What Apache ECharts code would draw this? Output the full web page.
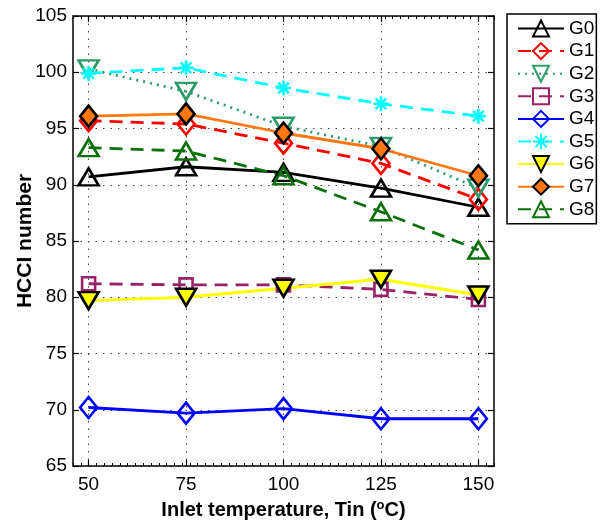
<!DOCTYPE html>
<html><head><meta charset="utf-8">
<script src="https://cdn.jsdelivr.net/npm/echarts@6/dist/echarts.min.js"></script>
<style>html,body{margin:0;padding:0;background:#fff}#c{width:600px;height:522px}</style>
</head><body><div id="c"></div>
<script>
// ---- data ----
const xValues = [50, 75, 100, 125, 150];
const xTicks = [50, 75, 100, 125, 150];
const seriesNames = ['G0', 'G1', 'G2', 'G3', 'G4', 'G5', 'G6', 'G7', 'G8'];
const G0 = [90.7, 91.6, 91.1, 89.7, 88.0];
const G1 = [95.7, 95.4, 93.7, 91.9, 88.7];
const G2 = [100.3, 98.3, 95.2, 93.4, 89.7];
const G3 = [81.2, 81.1, 81.1, 80.7, 79.8];
const G4 = [70.2, 69.7, 70.1, 69.2, 69.2];
const G5 = [99.9, 100.4, 98.6, 97.2, 96.1];
const G6 = [79.7, 80.0, 80.8, 81.6, 80.2];
const G7 = [96.1, 96.3, 94.6, 93.2, 90.8];
const G8 = [93.3, 93.0, 90.8, 87.6, 84.2];
const allValues = [G0, G1, G2, G3, G4, G5, G6, G7, G8];

// ---- styles ----
const FONT = 'Liberation Sans, Arial, Helvetica, sans-serif';
const ASTER = 'path://M10,0L10,20M0,10L20,10M2.93,2.93L17.07,17.07M2.93,17.07L17.07,2.93';
const styles = [
  {color:'#000000', type:'solid',  symbol:'triangle', size:[20,17], fill:'rgba(0,0,0,0)', edge:'#000000'},
  {color:'#ff0000', type:[13,8],   symbol:'diamond',  size:[17,21], fill:'rgba(0,0,0,0)', edge:'#ff0000'},
  {color:'#2b9b6b', type:[2,5],    symbol:'triangle', size:[20,17], rotate:180, fill:'rgba(0,0,0,0)', edge:'#2b9b6b'},
  {color:'#992266', type:[13,8],   symbol:'rect',     size:[13,13], fill:'rgba(0,0,0,0)', edge:'#992266'},
  {color:'#0000ff', type:'solid',  symbol:'diamond',  size:[17,21], fill:'rgba(0,0,0,0)', edge:'#0000ff'},
  {color:'#00ffff', type:[13,8],   symbol:ASTER,      size:[15,15], fill:'rgba(0,0,0,0)', edge:'#00ffff'},
  {color:'#ffff00', type:'solid',  symbol:'triangle', size:[20,17], rotate:180, fill:'#ffff00', edge:'#000000'},
  {color:'#ff7711', type:'solid',  symbol:'diamond',  size:[17,21], fill:'#ff7711', edge:'#000000'},
  {color:'#0a700a', type:[13,8],   symbol:'triangle', size:[20,17], fill:'rgba(0,0,0,0)', edge:'#0a700a'}
];

const series = seriesNames.map((name, i) => {
  const s = styles[i];
  return {
    name: name,
    type: 'line',
    xAxisIndex: 0, yAxisIndex: 0,
    data: xValues.map((x, j) => [x, allValues[i][j]]),
    symbol: s.symbol,
    symbolSize: s.size,
    symbolRotate: s.rotate || 0,
    showSymbol: true,
    animation: false,
    lineStyle: {color: s.color, width: 2.8, type: s.type},
    itemStyle: {color: s.fill, borderColor: s.edge, borderWidth: 2.6},
    emphasis: {disabled: true}
  };
});

const gridPos = {left: 73, right: 106, top: 16, bottom: 56, containLabel: false, outerBoundsMode: 'none'};
const tickStyle = {color: '#000', width: 1.2};

const option = {
  backgroundColor: '#fff',
  animation: false,
  textStyle: {fontFamily: FONT},
  grid: [Object.assign({}, gridPos), Object.assign({}, gridPos)],
  legend: {
    orient: 'vertical', left: 507, top: 14,
    padding: [5, 2, 5, 10],
    itemWidth: 46, itemHeight: 20, itemGap: 3.6,
    borderColor: '#000', borderWidth: 1.5, backgroundColor: '#fff',
    textStyle: {fontFamily: FONT, fontSize: 19, color: '#000'},
    data: seriesNames
  },
  xAxis: [
    {
      type: 'value', gridIndex: 0, position: 'bottom', min: 46, max: 154,
      name: 'Inlet temperature, Tin ({s|o}C)', nameLocation: 'middle', nameGap: 33, nameMoveOverlap: false,
      nameTextStyle: {fontFamily: FONT, fontSize: 20, fontWeight: 'bold', color: '#000',
        rich: {s: {fontFamily: FONT, fontSize: 13, fontWeight: 'bold', color: '#000', verticalAlign: 'top', padding: [0, 0, 9, 0]}}},
      axisLine: {show: true, onZero: false, lineStyle: {color: '#000', width: 1.5}},
      axisTick: {show: true, inside: true, length: 6, lineStyle: tickStyle, customValues: xTicks},
      axisLabel: {fontFamily: FONT, fontSize: 19, color: '#000', margin: 9, customValues: xTicks},
      splitLine: {show: true, lineStyle: {color: '#444', width: 1, type: [1.5, 6]}}
    },
    {
      type: 'value', gridIndex: 0, position: 'top', min: 46, max: 154,
      axisLine: {show: true, onZero: false, lineStyle: {color: '#000', width: 1.5}},
      axisTick: {show: true, inside: true, length: 6, lineStyle: tickStyle, customValues: xTicks},
      axisLabel: {show: false},
      splitLine: {show: false}
    },
    {
      type: 'value', gridIndex: 1, position: 'bottom', min: 46, max: 154, interval: 2,
      axisLine: {show: false},
      axisTick: {show: true, inside: true, length: 3, lineStyle: {color: '#000', width: 1}},
      axisLabel: {show: false}, splitLine: {show: false}
    },
    {
      type: 'value', gridIndex: 1, position: 'top', min: 46, max: 154, interval: 2,
      axisLine: {show: false},
      axisTick: {show: true, inside: true, length: 3, lineStyle: {color: '#000', width: 1}},
      axisLabel: {show: false}, splitLine: {show: false}
    }
  ],
  yAxis: [
    {
      type: 'value', gridIndex: 0, position: 'left', min: 65, max: 105, interval: 5,
      name: 'HCCI number', nameLocation: 'middle', nameGap: 37, nameRotate: 90, nameMoveOverlap: false,
      nameTextStyle: {fontFamily: FONT, fontSize: 21, fontWeight: 'bold', color: '#000'},
      axisLine: {show: true, onZero: false, lineStyle: {color: '#000', width: 1.5}},
      axisTick: {show: true, inside: true, length: 6, lineStyle: tickStyle},
      axisLabel: {fontFamily: FONT, fontSize: 19, color: '#000', margin: 6},
      splitLine: {show: true, lineStyle: {color: '#444', width: 1, type: [1.5, 6]}}
    },
    {
      type: 'value', gridIndex: 0, position: 'right', min: 65, max: 105, interval: 5,
      axisLine: {show: true, onZero: false, lineStyle: {color: '#000', width: 1.5}},
      axisTick: {show: true, inside: true, length: 6, lineStyle: tickStyle},
      axisLabel: {show: false}, splitLine: {show: false}
    },
    {
      type: 'value', gridIndex: 1, min: 65, max: 105, interval: 5, show: false
    }
  ],
  series: series
};

const chart = echarts.init(document.getElementById('c'), null, {renderer: 'canvas'});
chart.setOption(option);
</script>
</body></html>
